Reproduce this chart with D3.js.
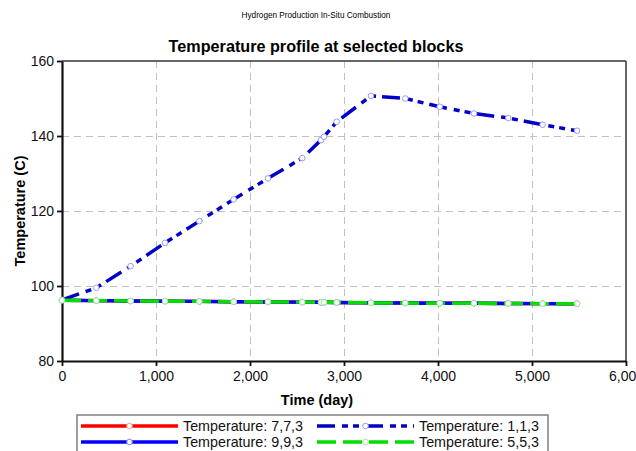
<!DOCTYPE html>
<html>
<head>
<meta charset="utf-8">
<script src="https://cdn.jsdelivr.net/npm/d3@7/dist/d3.min.js"></script>
<style>
  html, body { margin: 0; padding: 0; background: #ffffff; }
  svg { display: block; font-family: Arial, "Liberation Sans", sans-serif; }
</style>
</head>
<body>
<svg id="chart" width="636" height="451"></svg>
<script>
// ---- data ----
const days = [0, 365, 730, 1096, 1461, 1826, 2191, 2556, 2755, 2787, 2922, 3287, 3652, 4018, 4383, 4748, 5113, 5479];
const temp773 = [96.2, 96.1, 96.0, 95.95, 95.9, 95.8, 95.75, 95.7, 95.65, 95.65, 95.6, 95.5, 95.45, 95.4, 95.4, 95.35, 95.3, 95.3];
const temp993 = [96.2, 96.1, 96.0, 95.95, 95.9, 95.8, 95.75, 95.7, 95.65, 95.65, 95.6, 95.5, 95.45, 95.4, 95.4, 95.35, 95.3, 95.3];
const temp113 = [96.3, 99.5, 105.3, 111.5, 117.3, 123.1, 128.7, 134.1, 138.9, 139.8, 143.8, 150.7, 150.0, 147.8, 146.0, 144.8, 143.0, 141.4];
const temp553 = [96.2, 96.1, 96.0, 95.95, 95.9, 95.8, 95.75, 95.7, 95.65, 95.65, 95.6, 95.5, 95.45, 95.4, 95.4, 95.35, 95.3, 95.3];
const seriesNames = ["Temperature: 7,7,3", "Temperature: 9,9,3", "Temperature: 1,1,3", "Temperature: 5,5,3"];
const xTicks = [0, 1000, 2000, 3000, 4000, 5000, 6000];
const yTicks = [80, 100, 120, 140, 160];

const styles = [
  { color: "#ff0000", dash: null, marker: "#ff9999" },
  { color: "#0000ff", dash: null, marker: "#8080ff" },
  { color: "#0000c8", dash: "18,7,6,5,6,6", marker: "#9a9aff" },
  { color: "#00dd00", dash: "19,7", marker: "#99ee99" }
];
const seriesValues = [temp773, temp993, temp113, temp553];
const series = seriesNames.map((name, i) => ({
  name, style: styles[i],
  points: days.map((d, j) => ({ x: d, y: seriesValues[i][j] }))
}));

// ---- layout ----
const svg = d3.select("#chart");
const L = 62, R = 626, T = 61, B = 361;
const x = d3.scaleLinear().domain([0, 6000]).range([L, R]);
const y = d3.scaleLinear().domain([80, 160]).range([B, T]);

svg.append("rect").attr("width", 636).attr("height", 451).attr("fill", "#fff");

// titles
svg.append("text").attr("x", 316).attr("y", 18).attr("text-anchor", "middle")
  .attr("font-size", 8.2).attr("fill", "#000").text("Hydrogen Production In-Situ Combustion");
svg.append("text").attr("x", 316).attr("y", 52).attr("text-anchor", "middle")
  .attr("font-size", 16.2).attr("font-weight", "bold").attr("fill", "#000")
  .text("Temperature profile at selected blocks");

// grid
const grid = svg.append("g").attr("stroke", "#c0c0c0").attr("stroke-width", 1).attr("stroke-dasharray", "7,5");
grid.selectAll("line.v").data(xTicks.slice(1, -1)).enter().append("line")
  .attr("x1", d => Math.round(x(d)) + 0.5).attr("x2", d => Math.round(x(d)) + 0.5)
  .attr("y1", T).attr("y2", B);
grid.selectAll("line.h").data(yTicks.slice(1, -1)).enter().append("line")
  .attr("y1", d => Math.round(y(d)) + 0.5).attr("y2", d => Math.round(y(d)) + 0.5)
  .attr("x1", L).attr("x2", R);

// frame (top/right)
svg.append("line").attr("x1", L).attr("x2", R).attr("y1", T).attr("y2", T).attr("stroke", "#333").attr("stroke-width", 1.5);
svg.append("line").attr("x1", R).attr("x2", R).attr("y1", T).attr("y2", B).attr("stroke", "#333").attr("stroke-width", 1.5);

// axes
const xAxis = svg.append("g").attr("transform", `translate(0,${B})`)
  .call(d3.axisBottom(x).tickValues(xTicks).tickFormat(d3.format(",")).tickSize(5).tickSizeOuter(0));
const yAxis = svg.append("g").attr("transform", `translate(${L},0)`)
  .call(d3.axisLeft(y).tickValues(yTicks).tickSize(5).tickSizeOuter(0));
[xAxis, yAxis].forEach(g => {
  g.select(".domain").attr("stroke", "#111").attr("stroke-width", 2.2);
  g.selectAll(".tick line").attr("stroke", "#111").attr("stroke-width", 1.8);
  g.selectAll(".tick text").attr("font-size", 14).attr("fill", "#111")
    .attr("font-family", "Arial, 'Liberation Sans', sans-serif");
});
xAxis.selectAll(".tick text").attr("dy", "0.71em").attr("y", 10);
yAxis.selectAll(".tick text").attr("x", -8);

// axis labels
svg.append("text").attr("x", 317).attr("y", 405).attr("text-anchor", "middle")
  .attr("font-size", 14.5).attr("font-weight", "bold").text("Time (day)");
svg.append("text").attr("transform", `translate(25,${(T + B) / 2}) rotate(-90)`)
  .attr("text-anchor", "middle").attr("font-size", 14.5).attr("font-weight", "bold").text("Temperature (C)");

// series
const line = d3.line().x(d => x(d.x)).y(d => y(d.y));
series.forEach(s => {
  svg.append("path").datum(s.points).attr("d", line).attr("fill", "none")
    .attr("stroke", s.style.color).attr("stroke-width", 3.5)
    .attr("stroke-dasharray", s.style.dash);
  svg.append("g").selectAll("circle").data(s.points).enter().append("circle")
    .attr("cx", d => x(d.x)).attr("cy", d => y(d.y)).attr("r", 2.8)
    .attr("fill", "#fff").attr("stroke", s.style.marker).attr("stroke-width", 1);
});

// legend
const lg = svg.append("g");
lg.append("rect").attr("x", 77).attr("y", 415).attr("width", 471).attr("height", 45)
  .attr("fill", "#fff").attr("stroke", "#808080").attr("stroke-width", 1.5);
const legendPos = [
  { lx: 81, ty: 426 }, { lx: 81, ty: 442 }, { lx: 317, ty: 426 }, { lx: 317, ty: 442 }
];
series.forEach((s, i) => {
  const p = legendPos[i];
  const g = lg.append("g");
  g.append("line").attr("x1", p.lx).attr("x2", p.lx + 97).attr("y1", p.ty).attr("y2", p.ty)
    .attr("stroke", s.style.color).attr("stroke-width", 3.5).attr("stroke-dasharray", s.style.dash);
  g.append("circle").attr("cx", p.lx + 48.5).attr("cy", p.ty).attr("r", 2.8)
    .attr("fill", "#fff").attr("stroke", s.style.marker).attr("stroke-width", 1);
  g.append("text").attr("x", p.lx + 102).attr("y", p.ty + 5).attr("font-size", 14.3).attr("fill", "#111")
    .text(s.name);
});
</script>
</body>
</html>
